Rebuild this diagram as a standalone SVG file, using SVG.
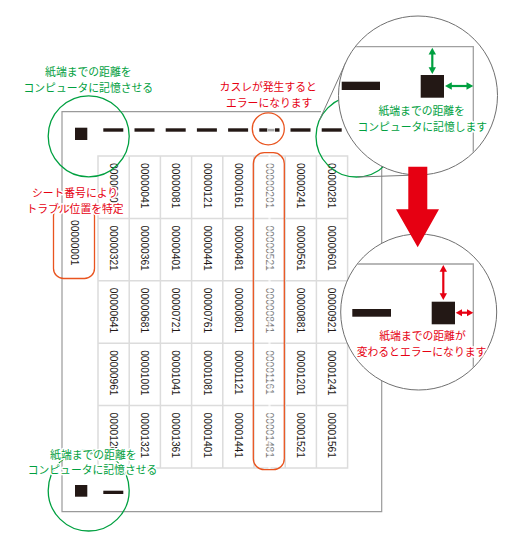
<svg xmlns="http://www.w3.org/2000/svg" width="522" height="541" viewBox="0 0 522 541">
<style>
.pg{fill:none;stroke:#9a9a9a;stroke-width:1.2}
.gl{fill:none;stroke:#dcdcdc;stroke-width:1.5}
.num{font-family:"Liberation Sans",Arial,sans-serif;font-size:10.2px;fill:#231815}
.fd{fill:#7c7c7c}
.blk{fill:#231815}
.gc{fill:none;stroke:#00a040;stroke-width:1.3}
.ro{fill:none;stroke:#e9541f;stroke-width:1.3}
.lens{fill:#fff;stroke:#707070;stroke-width:1}
.tl{fill:none;stroke:#7a7a7a;stroke-width:1}
.lbl{font-family:"Noto Sans CJK JP","Noto Sans CJK SC",sans-serif;font-size:10.8px;text-anchor:middle;stroke:#fff;stroke-width:3;stroke-linejoin:round;paint-order:stroke}
.g{fill:#00a040}
.r{fill:#e60012}
.ga{stroke:#00a040;stroke-width:2.2}
.ra{stroke:#e60012;stroke-width:2.2}
</style>
<defs>
<clipPath id="c1"><circle cx="418" cy="95.5" r="79"/></clipPath>
<clipPath id="c2"><circle cx="418.7" cy="312" r="77.5"/></clipPath>
</defs>

<g id="page">
<path class="pg" d="M321,111.7 L62,111.7 L62,511.7 L381.7,511.7 L381.7,166"/>
</g>

<g id="grid">
<g class="gl">
<rect x="98" y="156" width="249.6" height="312"/>
<path d="M129.2,156V468M160.4,156V468M191.6,156V468M222.8,156V468M254,156V468M285.2,156V468M316.4,156V468"/>
<path d="M98,218.4H347.6M98,280.8H347.6M98,343.2H347.6M98,405.6H347.6"/>
</g>
<g class="num">
<text x="110" y="163" transform="rotate(90 110 163)">00000001</text>
<text x="141.2" y="163" transform="rotate(90 141.2 163)">00000041</text>
<text x="172.4" y="163" transform="rotate(90 172.4 163)">00000081</text>
<text x="203.6" y="163" transform="rotate(90 203.6 163)">00000121</text>
<text x="234.8" y="163" transform="rotate(90 234.8 163)">00000161</text>
<text class="fd" x="266" y="163" transform="rotate(90 266 163)">00000201</text>
<text x="297.2" y="163" transform="rotate(90 297.2 163)">00000241</text>
<text x="328.4" y="163" transform="rotate(90 328.4 163)">00000281</text>

<text x="110" y="225.4" transform="rotate(90 110 225.4)">00000321</text>
<text x="141.2" y="225.4" transform="rotate(90 141.2 225.4)">00000361</text>
<text x="172.4" y="225.4" transform="rotate(90 172.4 225.4)">00000401</text>
<text x="203.6" y="225.4" transform="rotate(90 203.6 225.4)">00000441</text>
<text x="234.8" y="225.4" transform="rotate(90 234.8 225.4)">00000481</text>
<text class="fd" x="266" y="225.4" transform="rotate(90 266 225.4)">00000521</text>
<text x="297.2" y="225.4" transform="rotate(90 297.2 225.4)">00000561</text>
<text x="328.4" y="225.4" transform="rotate(90 328.4 225.4)">00000601</text>

<text x="110" y="287.8" transform="rotate(90 110 287.8)">00000641</text>
<text x="141.2" y="287.8" transform="rotate(90 141.2 287.8)">00000681</text>
<text x="172.4" y="287.8" transform="rotate(90 172.4 287.8)">00000721</text>
<text x="203.6" y="287.8" transform="rotate(90 203.6 287.8)">00000761</text>
<text x="234.8" y="287.8" transform="rotate(90 234.8 287.8)">00000801</text>
<text class="fd" x="266" y="287.8" transform="rotate(90 266 287.8)">00000841</text>
<text x="297.2" y="287.8" transform="rotate(90 297.2 287.8)">00000881</text>
<text x="328.4" y="287.8" transform="rotate(90 328.4 287.8)">00000921</text>

<text x="110" y="350.2" transform="rotate(90 110 350.2)">00000961</text>
<text x="141.2" y="350.2" transform="rotate(90 141.2 350.2)">00001001</text>
<text x="172.4" y="350.2" transform="rotate(90 172.4 350.2)">00001041</text>
<text x="203.6" y="350.2" transform="rotate(90 203.6 350.2)">00001081</text>
<text x="234.8" y="350.2" transform="rotate(90 234.8 350.2)">00001121</text>
<text class="fd" x="266" y="350.2" transform="rotate(90 266 350.2)">00001161</text>
<text x="297.2" y="350.2" transform="rotate(90 297.2 350.2)">00001201</text>
<text x="328.4" y="350.2" transform="rotate(90 328.4 350.2)">00001241</text>

<text x="110" y="412.6" transform="rotate(90 110 412.6)">00001281</text>
<text x="141.2" y="412.6" transform="rotate(90 141.2 412.6)">00001321</text>
<text x="172.4" y="412.6" transform="rotate(90 172.4 412.6)">00001361</text>
<text x="203.6" y="412.6" transform="rotate(90 203.6 412.6)">00001401</text>
<text x="234.8" y="412.6" transform="rotate(90 234.8 412.6)">00001441</text>
<text class="fd" x="266" y="412.6" transform="rotate(90 266 412.6)">00001481</text>
<text x="297.2" y="412.6" transform="rotate(90 297.2 412.6)">00001521</text>
<text x="328.4" y="412.6" transform="rotate(90 328.4 412.6)">00001561</text>
</g>
<rect x="268.4" y="154" width="2.2" height="316" fill="#fff" opacity="0.7"/>
</g>

<g id="marks-top">
<rect class="blk" x="75" y="127.7" width="12.3" height="12.3"/>
<g class="blk">
<rect x="103.3" y="128.3" width="20" height="3.4"/>
<rect x="134.5" y="128.3" width="20" height="3.4"/>
<rect x="165.7" y="128.3" width="20" height="3.4"/>
<rect x="196.9" y="128.3" width="20" height="3.4"/>
<rect x="228.1" y="128.3" width="20" height="3.4"/>
<rect x="259.3" y="128.3" width="8" height="3.4"/>
<rect x="275" y="128.3" width="4.5" height="3.4"/>
<rect x="290.5" y="128.3" width="20" height="3.4"/>
<rect x="321.7" y="128.3" width="20" height="3.4"/>
</g>
<rect x="268" y="128.8" width="6.5" height="2.6" fill="#a8a8a8"/>
</g>

<g id="marks-bottom">
<rect class="blk" x="75" y="485" width="12.3" height="11.7"/>
<rect class="blk" x="103.3" y="490.7" width="20" height="3.3"/>
</g>

<g id="fade-highlight">
<circle class="ro" cx="268.3" cy="128.8" r="16"/>
<rect class="ro" x="253.3" y="152.7" width="31" height="317" rx="11"/>
</g>

<g id="sheet-number">
<rect class="ro" x="53.5" y="206" width="41" height="72.5" rx="10"/>
<text class="num" x="71.4" y="220" transform="rotate(90 71.4 220)">00000001</text>
</g>

<g id="green-circles">
<circle class="gc" cx="88.7" cy="136.3" r="40.5"/>
<circle class="gc" cx="88.7" cy="490.5" r="40.5"/>
<circle class="gc" cx="356.5" cy="136.5" r="40.5"/>
</g>

<g id="connectors">
<line class="tl" x1="319.6" y1="119.8" x2="345.7" y2="62.7"/>
<line class="tl" x1="357.8" y1="177" x2="420.5" y2="174.9"/>
</g>

<g id="lens-ok">
<circle class="lens" cx="418" cy="95.5" r="79.5"/>
<g clip-path="url(#c1)">
<path d="M340,46.7H473.3V180" fill="none" stroke="#a0a0a0" stroke-width="1.3"/>
<rect class="blk" x="341.7" y="81.7" width="38.3" height="8.3"/>
<rect class="blk" x="420.7" y="75" width="23.3" height="22.7"/>
</g>
<line class="ga" x1="432.3" y1="53" x2="432.3" y2="69"/>
<polygon class="g" points="432.3,47.7 428.6,54.5 436,54.5"/>
<polygon class="g" points="432.3,74 428.6,67.2 436,67.2"/>
<line class="ga" x1="450" y1="86" x2="468.3" y2="86"/>
<polygon class="g" points="445,86 451.8,82.3 451.8,89.7"/>
<polygon class="g" points="473.3,86 466.5,82.3 466.5,89.7"/>
<text class="lbl g" x="421.7" y="115.3">紙端までの距離を<tspan x="422.3" dy="15.8">コンピュータに記憶します</tspan></text>
</g>

<g id="lens-error">
<circle class="lens" cx="418.7" cy="312" r="78"/>
<g clip-path="url(#c2)">
<path d="M340,264H473.3V400" fill="none" stroke="#a0a0a0" stroke-width="1.3"/>
<rect class="blk" x="352.3" y="309" width="38.7" height="7.7"/>
<rect class="blk" x="431.7" y="301.7" width="23.3" height="22.6"/>
</g>
<line class="ra" x1="443.3" y1="270" x2="443.3" y2="295"/>
<polygon class="r" points="443.3,265 439.6,271.8 447,271.8"/>
<polygon class="r" points="443.3,300 439.6,293.2 447,293.2"/>
<line class="ra" x1="460" y1="312.7" x2="469" y2="312.7"/>
<polygon class="r" points="455.7,312.7 462,309.2 462,316.2"/>
<polygon class="r" points="473.3,312.7 467,309.2 467,316.2"/>
<text class="lbl r" x="422.5" y="340.3">紙端までの距離が<tspan x="421.5" dy="15.8">変わるとエラーになります</tspan></text>
</g>

<g id="big-arrow">
<polygon points="408.3,166.7 427.3,166.7 427.3,209.3 439,209.3 417.7,247.3 396,209.3 408.3,209.3" fill="#e60012"/>
</g>

<g id="labels">
<text class="lbl g" x="88.3" y="76.4">紙端までの距離を<tspan x="88.3" dy="15.8">コンピュータに記憶させる</tspan></text>
<text class="lbl r" x="268.2" y="90.9">カスレが発生すると<tspan x="269.2" dy="15.8">エラーになります</tspan></text>
<text class="lbl r" x="75" y="197">シート番号により<tspan x="75" dy="16">トラブル位置を特定</tspan></text>
<text class="lbl g" x="93.3" y="458.6">紙端までの距離を<tspan x="92.5" dy="15.8">コンピュータに記憶させる</tspan></text>
</g>
</svg>
